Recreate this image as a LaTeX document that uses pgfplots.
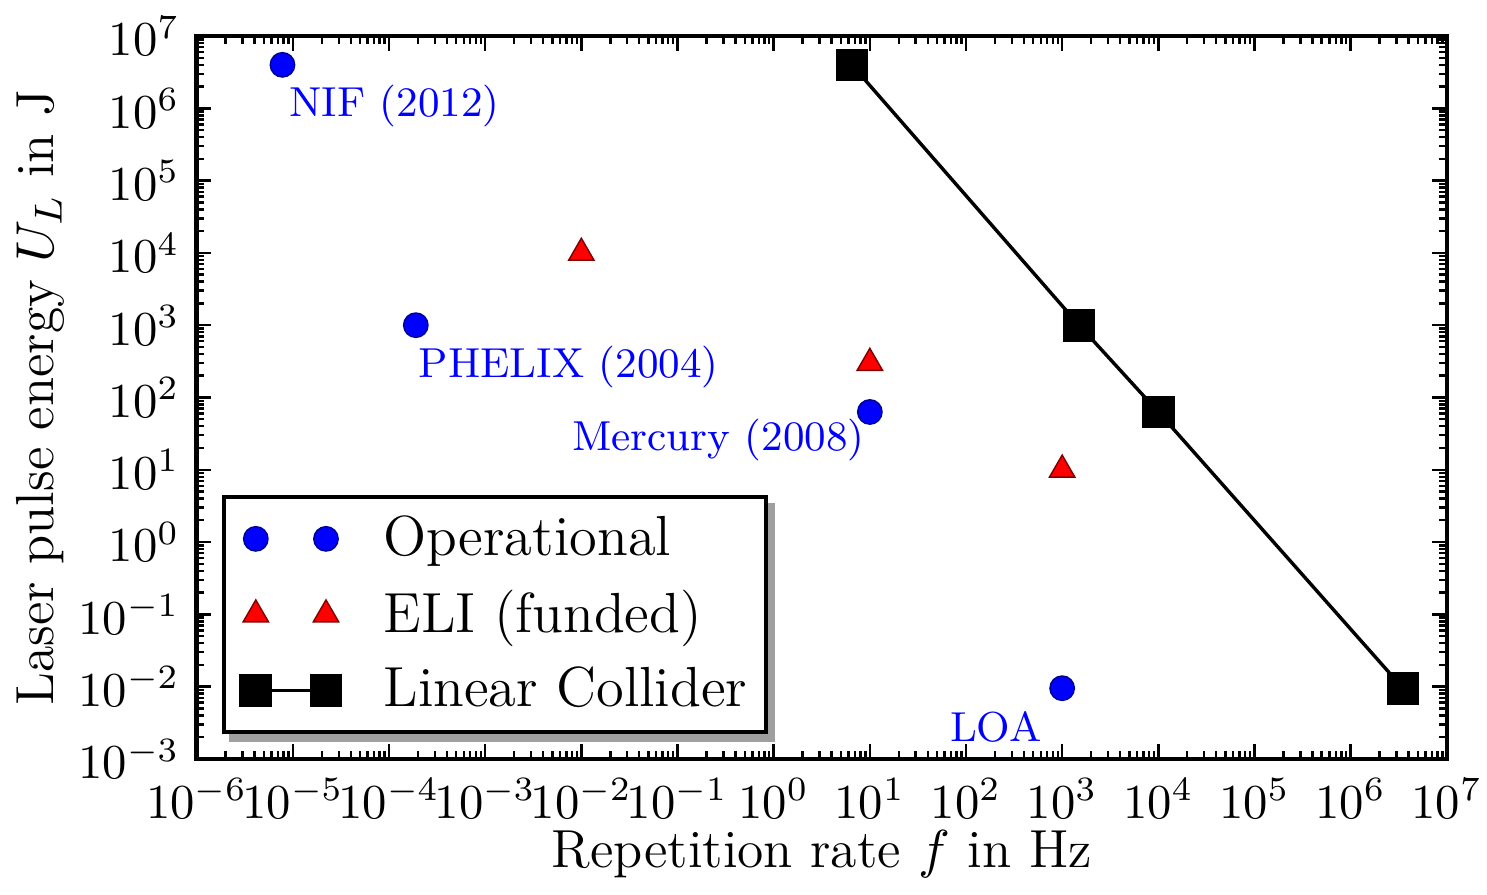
\documentclass[border=0pt]{standalone}
\usepackage{pgfplots}
\pgfplotsset{compat=1.18}
\usetikzlibrary{backgrounds}
\pgfplotsset{twomark/.style={legend image code/.code={\draw[##1, mark repeat=1, mark phase=1] plot coordinates {(0pt,0pt) (14.4pt,0pt)}; \path (-4.4pt,0pt) (23.8pt,0pt);}}}
\begin{document}
\begin{tikzpicture}
\begin{axis}[
  scale only axis,
  width=256.5pt, height=148.3pt,
  xmode=log, ymode=log,
  xmin=1e-6, xmax=1e7, ymin=1e-3, ymax=1e7,
  xtick={1e-6,1e-5,1e-4,1e-3,1e-2,1e-1,1,1e1,1e2,1e3,1e4,1e5,1e6,1e7},
  ytick={1e-3,1e-2,1e-1,1,1e1,1e2,1e3,1e4,1e5,1e6,1e7},
  minor xtick={},
  axis line style={line width=0.9pt},
  major tick length=3pt, minor tick length=1.6pt,
  tick style={black, line width=0.5pt},
  xlabel={Repetition rate $f$ in Hz},
  ylabel={Laser pulse energy $U_L$ in J},
  label style={font=\fontsize{11}{13}\selectfont},
  xlabel style={yshift=2pt},
  ylabel style={yshift=-4pt},
  xticklabel style={inner sep=1pt, yshift=-2.8pt},
  legend style={name=leg, at={(0.02,0.034)}, anchor=south west, draw=black, fill=white, line width=0.8pt,
    font=\fontsize{11.6}{13.5}\selectfont, row sep=1.6pt, inner sep=1.8pt},
  legend cell align=left,
]
\addplot[only marks, mark=*, mark size=2.5pt, blue, mark options={fill=blue, draw=blue!60!black, line width=0.3pt}, twomark]
  coordinates {(7.8e-6,4e6) (1.9e-4,1000) (10,63) (1000,0.0095)};
\addlegendentry{Operational}
\addplot[only marks, mark=triangle*, mark size=3pt, red, mark options={fill=red, draw=red!50!black, line width=0.3pt}, twomark]
  coordinates {(1e-2,1e4) (10,300) (1000,10)};
\addlegendentry{ELI (funded)}
\addplot[black, line width=0.7pt, mark=square*, mark size=3pt, mark options={fill=black}, twomark]
  coordinates {(6.5,4e6) (1500,1000) (1e4,63) (3.5e6,0.0095)};
\addlegendentry{Linear Collider}
\node[anchor=west, inner sep=0pt, blue, font=\fontsize{8.6}{10}\selectfont] at (axis cs:9e-6,1.07e6) {NIF (2012)};
\node[anchor=west, inner sep=0pt, blue, font=\fontsize{8.6}{10}\selectfont] at (axis cs:2e-4,263) {PHELIX (2004)};
\node[anchor=east, inner sep=0pt, blue, font=\fontsize{8.6}{10}\selectfont] at (axis cs:9,26) {Mercury (2008)};
\node[anchor=center, inner sep=0pt, blue, font=\fontsize{8.6}{10}\selectfont] at (axis cs:204,0.0028) {LOA};
\end{axis}
\begin{scope}[on background layer]
\fill[gray!75] ([shift={(1.6pt,-1.6pt)}]leg.south west) rectangle ([shift={(1.6pt,-1.6pt)}]leg.north east);
\end{scope}
\end{tikzpicture}
\end{document}
